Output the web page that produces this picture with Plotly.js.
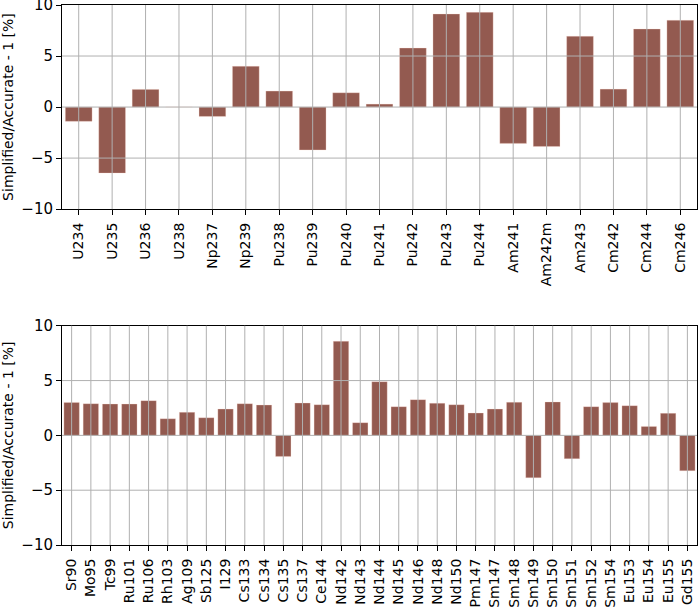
<!DOCTYPE html>
<html>
<head>
<meta charset="utf-8">
<script src="https://cdn.plot.ly/plotly-3.0.1.min.js"></script>
<style>
  html, body { margin: 0; padding: 0; background: #fff; }
  #chart { width: 699px; height: 607px; }
</style>
</head>
<body>
<div id="chart"></div>
<script>
const actinides = ['U234', 'U235', 'U236', 'U238', 'Np237', 'Np239', 'Pu238', 'Pu239', 'Pu240',
    'Pu241', 'Pu242', 'Pu243', 'Pu244', 'Am241', 'Am242m', 'Am243', 'Cm242', 'Cm244', 'Cm246'];
const actinideDiff = [-1.4, -6.47, 1.73, 0, -0.92, 3.99, 1.57, -4.2, 1.4,
    0.29, 5.78, 9.12, 9.28, -3.56, -3.86, 6.93, 1.76, 7.65, 8.5];

const fissionProducts = ['Sr90', 'Mo95', 'Tc99', 'Ru101', 'Ru106', 'Rh103', 'Ag109', 'Sb125', 'I129',
    'Cs133', 'Cs134', 'Cs135', 'Cs137', 'Ce144', 'Nd142', 'Nd143', 'Nd144', 'Nd145', 'Nd146',
    'Nd148', 'Nd150', 'Pm147', 'Sm147', 'Sm148', 'Sm149', 'Sm150', 'Sm151', 'Sm152', 'Sm154',
    'Eu153', 'Eu154', 'Eu155', 'Gd155'];
const fissionDiff = [3.01, 2.89, 2.86, 2.86, 3.17, 1.52, 2.1, 1.61, 2.4,
    2.89, 2.77, -1.92, 2.95, 2.8, 8.58, 1.16, 4.9, 2.62, 3.26,
    2.93, 2.8, 2.04, 2.4, 3.02, -3.87, 3.05, -2.13, 2.62, 2.99,
    2.71, 0.82, 2.01, -3.23];

const yTicks = [-10, -5, 0, 5, 10];

const barColor = '#935a50';
const gridColor = '#b0b0b0';

function barTrace(cats, vals, xa, ya) {
    return {
        type: 'bar',
        x: cats,
        y: vals,
        xaxis: xa,
        yaxis: ya,
        width: 0.8,
        marker: {
            color: barColor,
            line: { color: 'rgba(255,220,210,0.5)', width: 0.6 }
        },
        hoverinfo: 'x+y'
    };
}

// grid drawn on top of the bars, like the original
function gridShapes(cats, xa, ya) {
    const shapes = [];
    cats.forEach(c => {
        shapes.push({
            type: 'line', layer: 'above',
            xref: xa, yref: ya + ' domain',
            x0: c, x1: c, y0: 0, y1: 1,
            line: { color: gridColor, width: 1 }
        });
    });
    yTicks.slice(1, -1).forEach(v => {
        shapes.push({
            type: 'line', layer: 'above',
            xref: xa + ' domain', yref: ya,
            x0: 0, x1: 1, y0: v, y1: v,
            line: { color: gridColor, width: 1 }
        });
    });
    return shapes;
}

function xAxis(cats, anchor) {
    return {
        anchor: anchor,
        type: 'category',
        range: [-0.5, cats.length - 0.5],
        tickangle: -90,
        ticks: 'outside',
        ticklen: 5,
        tickwidth: 1,
        tickcolor: '#000',
        ticklabelstandoff: 2,
        ticklabeloverflow: 'allow',
        showgrid: false,
        showline: true,
        linecolor: '#000',
        linewidth: 1,
        mirror: true,
        zeroline: false,
        fixedrange: true
    };
}

function yAxis(domain, anchor) {
    return {
        anchor: anchor,
        domain: domain,
        range: [-10, 10],
        tickvals: yTicks,
        ticks: 'outside',
        ticklen: 5,
        tickwidth: 1,
        tickcolor: '#000',
        ticklabeloverflow: 'allow',
        tickfont: { size: 15 },
        showgrid: false,
        showline: true,
        linecolor: '#000',
        linewidth: 1,
        mirror: true,
        zeroline: false,
        fixedrange: true,
        title: { text: 'Simplified/Accurate - 1 [%]', standoff: 8, font: { size: 14 } }
    };
}

const data = [
    barTrace(actinides, actinideDiff, 'x', 'y'),
    barTrace(fissionProducts, fissionDiff, 'x2', 'y2')
];

const layout = {
    width: 699,
    height: 607,
    margin: { l: 62, r: 2, t: 5, b: 62 },
    showlegend: false,
    paper_bgcolor: '#fff',
    plot_bgcolor: '#fff',
    font: { family: 'DejaVu Sans', size: 14, color: '#000' },
    xaxis: xAxis(actinides, 'y'),
    yaxis: yAxis([0.622, 1], 'x'),
    xaxis2: xAxis(fissionProducts, 'y2'),
    yaxis2: yAxis([0, 0.406], 'x2'),
    shapes: gridShapes(actinides, 'x', 'y').concat(gridShapes(fissionProducts, 'x2', 'y2'))
};

Plotly.newPlot('chart', data, layout, { displayModeBar: false, responsive: false });
</script>
</body>
</html>
